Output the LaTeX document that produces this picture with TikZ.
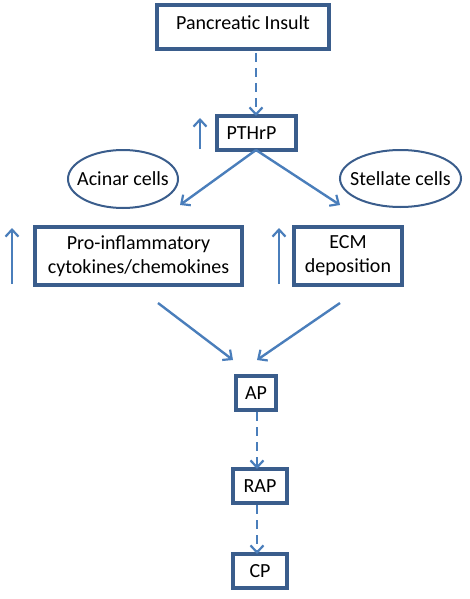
\documentclass[tikz,border=0pt]{standalone}
\usepackage{fontspec}
\setmainfont{Carlito}
\usetikzlibrary{arrows.meta,shapes.geometric}
\definecolor{boxc}{HTML}{3A5D8C}
\definecolor{arrc}{HTML}{4A7EBB}
\begin{document}
\begin{tikzpicture}[x=1pt,y=-1pt,
  bx/.style={draw=boxc,line width=3.2pt,fill=white,inner sep=0pt,font=\fontsize{20}{24}\selectfont,align=center},
  el/.style={draw=boxc,line width=2pt,ellipse,inner sep=0pt,font=\fontsize{20}{24}\selectfont},
  ar/.style={draw=arrc,line width=2.4pt,-{Straight Barb[length=7pt,width=13pt,line width=2.2pt]}},
  da/.style={ar,dash pattern=on 9pt off 6pt}]
\useasboundingbox (0,0) rectangle (470,599);
\node[bx,minimum width=172pt,minimum height=44pt] (ins) at (243,27) {\raisebox{8pt}{Pancreatic Insult}};
\node[bx,minimum width=79pt,minimum height=34pt] (pth) at (256.5,133) {PTHrP\hspace{10pt}};
\node[el,minimum width=110pt,minimum height=58pt] (aci) at (123,179) {\makebox[0pt]{Acinar cells}};
\node[el,minimum width=121pt,minimum height=57pt] (ste) at (400.5,178.5) {\makebox[0pt]{Stellate cells}};
\node[bx,minimum width=207pt,minimum height=58pt] (pro) at (138.5,256) {Pro-inflammatory\\cytokines/chemokines};
\node[bx,minimum width=108pt,minimum height=58pt] (ecm) at (348,256) {ECM\\deposition};
\node[bx,minimum width=40pt,minimum height=34pt] (ap) at (256,393) {AP};
\node[bx,minimum width=54pt,minimum height=34pt] (rap) at (260,486) {RAP};
\node[bx,minimum width=54pt,minimum height=34pt] (cp) at (260,571) {CP};
\coordinate (pthu1) at (200,149);
\coordinate (pthu2) at (200,118);
\coordinate (prou1) at (12,284);
\coordinate (prou2) at (12,228);
\coordinate (ecmu1) at (279,284);
\coordinate (ecmu2) at (279,228);
\coordinate (la) at (180,205);
\coordinate (ra) at (340,205);
\coordinate (ls) at (158,303);
\coordinate (rs) at (340,303);
\coordinate (le) at (233,360);
\coordinate (re) at (257,360);
\coordinate (d1s) at (256,53);
\coordinate (d1e) at (256,116);
\coordinate (ps) at (256,150);
\coordinate (d2s) at (257,412);
\coordinate (d2e) at (257,469);
\coordinate (d3s) at (257,505);
\coordinate (d3e) at (257,554);
\draw[ar] (pthu1) -- (pthu2);
\draw[ar] (prou1) -- (prou2);
\draw[ar] (ecmu1) -- (ecmu2);
\draw[da] (d1s) -- (d1e);
\draw[ar] (ps) -- (la);
\draw[ar] (ps) -- (ra);
\draw[ar] (ls) -- (le);
\draw[ar] (rs) -- (re);
\draw[da] (d2s) -- (d2e);
\draw[da] (d3s) -- (d3e);
\end{tikzpicture}
\end{document}
